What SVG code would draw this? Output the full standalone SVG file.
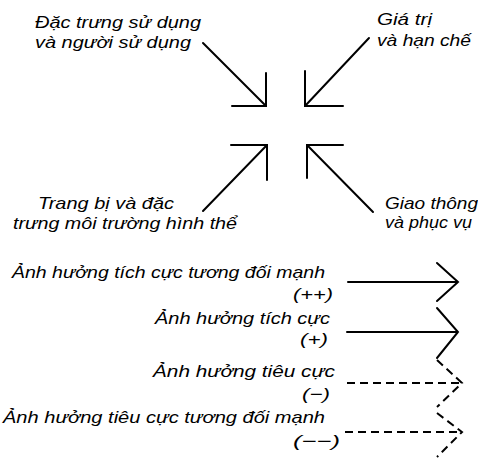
<svg xmlns="http://www.w3.org/2000/svg" width="478" height="467" viewBox="0 0 478 467">
<style>
text{font-family:"Liberation Sans",Arial,sans-serif;font-style:italic;font-size:17px;fill:#000}
.ln{fill:none;stroke:#000;stroke-width:2;stroke-linecap:round;stroke-linejoin:miter}
.d{stroke-dasharray:8 5;stroke-linecap:butt}
</style>
<rect width="478" height="467" fill="#fff"/>
<g id="node-dac-trung">
<text x="35" y="28" textLength="166" lengthAdjust="spacingAndGlyphs">Đặc trưng sử dụng</text>
<text x="35" y="48" textLength="156" lengthAdjust="spacingAndGlyphs">và người sử dụng</text>
</g>
<g id="node-gia-tri">
<text x="377" y="25" textLength="55" lengthAdjust="spacingAndGlyphs">Giá trị</text>
<text x="377" y="46" textLength="94" lengthAdjust="spacingAndGlyphs">và hạn chế</text>
</g>
<g id="node-trang-bi">
<text x="38" y="209" font-size="16" textLength="136" lengthAdjust="spacingAndGlyphs">Trang bị và đặc</text>
<text x="13" y="229" font-size="16" textLength="224" lengthAdjust="spacingAndGlyphs">trưng môi trường hình thể</text>
</g>
<g id="node-giao-thong">
<text x="385" y="209" textLength="93" lengthAdjust="spacingAndGlyphs">Giao thông</text>
<text x="385" y="228" textLength="87" lengthAdjust="spacingAndGlyphs">và phục vụ</text>
</g>
<g id="connectors">
<path class="ln" d="M203,43 L266,106 M266,73 V106 H232"/>
<path class="ln" d="M369,38 L305,106 M305,71 V106 H343"/>
<path class="ln" d="M203,211 L267,145 M267,180 V145 H231"/>
<path class="ln" d="M373,212 L307,145 M307,178 V145 H343"/>
</g>
<g id="legend-strong-positive">
<text x="12" y="278" textLength="313" lengthAdjust="spacingAndGlyphs">Ảnh hưởng tích cực tương đối mạnh</text>
<text x="293" y="300" font-size="15" textLength="40" lengthAdjust="spacingAndGlyphs">(++)</text>
<path class="ln" d="M348,282 H458 M437,263 L458,282 L437,301"/>
</g>
<g id="legend-positive">
<text x="155" y="324" textLength="175" lengthAdjust="spacingAndGlyphs">Ảnh hưởng tích cực</text>
<text x="300" y="345" font-size="15" textLength="28" lengthAdjust="spacingAndGlyphs">(+)</text>
<path class="ln" d="M347,332 H458 M437,308 L458,332 L437,358"/>
</g>
<g id="legend-negative">
<text x="153" y="377" textLength="182" lengthAdjust="spacingAndGlyphs">Ảnh hưởng tiêu cực</text>
<text x="302" y="400" font-size="15" textLength="28" lengthAdjust="spacingAndGlyphs">(−)</text>
<path class="ln d" d="M347,383 H462 M437,360 L462,383 L437,407"/>
</g>
<g id="legend-strong-negative">
<text x="3" y="423" textLength="322" lengthAdjust="spacingAndGlyphs">Ảnh hưởng tiêu cực tương đối mạnh</text>
<text x="293" y="447" font-size="15" textLength="47" lengthAdjust="spacingAndGlyphs">(−−)</text>
<path class="ln d" d="M345,432 H462 M437,413 L462,432 L437,457"/>
</g>
</svg>
